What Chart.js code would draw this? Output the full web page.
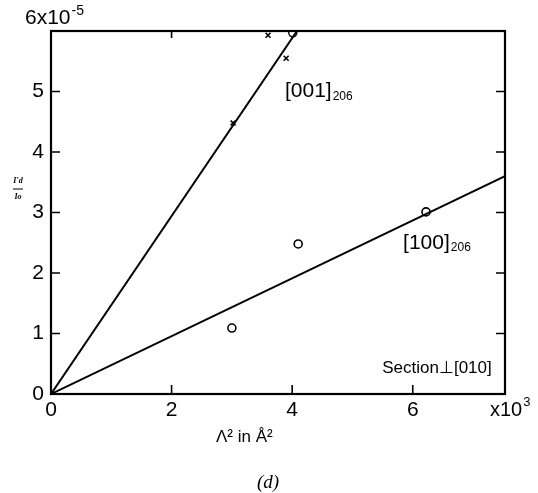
<!DOCTYPE html>
<html>
<head>
<meta charset="utf-8">
<script src="https://cdn.jsdelivr.net/npm/chart.js@4"></script>
<style>
  html, body { margin: 0; padding: 0; background: #fff; }
  #wrap { width: 538px; height: 493px; position: relative; }
</style>
</head>
<body>
<div id="wrap"><canvas id="chart"></canvas></div>
<script>
// data (x in 10^3 Å^2, y in 10^-5)
var xTicks = [0, 2, 4, 6];
var yTicks = [0, 1, 2, 3, 4, 5];
var topTicks = [2];
var xMax = 7.53;
var yMax = 6;

var points001 = [[3.02, 4.48], [3.60, 5.93], [3.90, 5.55]];
var points001Circle = [[4.01, 5.97]];
var points100 = [[3.00, 1.09], [4.10, 2.48], [6.22, 3.01]];
var fit001 = [[0, 0], [4.08, 6.0]];
var fit100 = [[0, 0], [7.53, 3.60]];

var labels = [
    { main: "[001]", sub: "206", x: 3.88, y: 5.0, align: "left", size: 21 },
    { main: "[100]", sub: "206", x: 5.84, y: 2.5, align: "left", size: 21 },
    { main: "Section\u22A5[010]", sub: "", x: 7.31, y: 0.43, align: "right", size: 17 }
];

function toXY(arr) {
    return arr.map(function (p) { return { x: p[0], y: p[1] }; });
}

var FONT = "'Liberation Sans', Arial, sans-serif";

var overlay = {
    id: "overlay",
    afterDraw: function (chart) {
        var ctx = chart.ctx;
        var a = chart.chartArea;
        var xs = chart.scales.x, ys = chart.scales.y;
        ctx.save();
        ctx.strokeStyle = "#000";
        ctx.fillStyle = "#000";

        // frame
        ctx.lineWidth = 2.2;
        ctx.strokeRect(a.left, a.top, a.right - a.left, a.bottom - a.top);

        // inward ticks
        ctx.lineWidth = 1.6;
        ctx.beginPath();
        xTicks.forEach(function (v) {
            if (v === 0) return;
            var px = xs.getPixelForValue(v);
            ctx.moveTo(px, a.bottom);
            ctx.lineTo(px, a.bottom - 9);
        });
        topTicks.forEach(function (v) {
            var px = xs.getPixelForValue(v);
            ctx.moveTo(px, a.top);
            ctx.lineTo(px, a.top + 7);
        });
        yTicks.forEach(function (v) {
            if (v === 0) return;
            var py = ys.getPixelForValue(v);
            ctx.moveTo(a.left, py);
            ctx.lineTo(a.left + 9, py);
            ctx.moveTo(a.right, py);
            ctx.lineTo(a.right - 9, py);
        });
        ctx.stroke();

        // series labels
        ctx.textBaseline = "middle";
        labels.forEach(function (l) {
            var px = xs.getPixelForValue(l.x);
            var py = ys.getPixelForValue(l.y);
            ctx.font = l.size + "px " + FONT;
            var w = ctx.measureText(l.main).width;
            ctx.font = "12px " + FONT;
            var ws = l.sub ? ctx.measureText(l.sub).width : 0;
            var x0 = l.align === "right" ? px - w - ws : px;
            ctx.font = l.size + "px " + FONT;
            ctx.textAlign = "left";
            ctx.fillText(l.main, x0, py);
            if (l.sub) {
                ctx.font = "12px " + FONT;
                ctx.fillText(l.sub, x0 + w + 1, py + 5);
            }
        });

        // y scale factor at top left
        ctx.textAlign = "left";
        ctx.textBaseline = "alphabetic";
        ctx.font = "21px " + FONT;
        ctx.fillText("6x10", 25, 24);
        var w6 = ctx.measureText("6x10").width;
        ctx.font = "14px " + FONT;
        ctx.fillText("-5", 26 + w6, 15);

        // x scale factor
        ctx.font = "20px " + FONT;
        ctx.textBaseline = "middle";
        ctx.fillText("x10", a.right - 15, 410);
        var wx = ctx.measureText("x10").width;
        ctx.font = "13px " + FONT;
        ctx.fillText("3", a.right - 14 + wx, 402);

        // x axis title
        ctx.font = "17px " + FONT;
        ctx.textAlign = "left";
        ctx.fillText("\u039B\u00B2 in \u00C5\u00B2", 216, 437);

        // y axis title (fraction)
        ctx.font = "italic bold 8px 'Liberation Serif', serif";
        ctx.textAlign = "center";
        ctx.fillText("I\u2032d", 18, 181);
        ctx.fillText("Io", 18, 197);
        ctx.lineWidth = 1;
        ctx.beginPath();
        ctx.moveTo(13, 189);
        ctx.lineTo(23, 189);
        ctx.stroke();

        // panel letter
        ctx.font = "italic 19px 'Liberation Serif', serif";
        ctx.fillText("(d)", 268, 483);
        ctx.restore();
    }
};

new Chart(document.getElementById("chart"), {
    type: "scatter",
    data: {
        datasets: [
            {
                label: "[001] fit",
                type: "line",
                data: toXY(fit001),
                borderColor: "#000",
                borderWidth: 2,
                pointRadius: 0
            },
            {
                label: "[100] fit",
                type: "line",
                data: toXY(fit100),
                borderColor: "#000",
                borderWidth: 2,
                pointRadius: 0
            },
            {
                label: "[001]",
                data: toXY(points001),
                pointStyle: "crossRot",
                pointRadius: 3.5,
                borderColor: "#000",
                borderWidth: 1.6
            },
            {
                label: "[001] open",
                data: toXY(points001Circle),
                pointStyle: "circle",
                pointRadius: 4,
                backgroundColor: "#fff",
                borderColor: "#000",
                borderWidth: 1.4
            },
            {
                label: "[100]",
                data: toXY(points100),
                pointStyle: "circle",
                pointRadius: 4,
                backgroundColor: "#fff",
                borderColor: "#000",
                borderWidth: 1.6
            }
        ]
    },
    options: {
        responsive: true,
        maintainAspectRatio: false,
        animation: false,
        layout: { padding: { left: 31, right: 33, top: 31, bottom: 69 } },
        plugins: {
            legend: { display: false },
            tooltip: { enabled: false }
        },
        scales: {
            x: {
                type: "linear",
                min: 0,
                max: xMax,
                grid: { display: false, drawTicks: false },
                border: { display: false },
                afterBuildTicks: function (s) {
                    s.ticks = xTicks.map(function (v) { return { value: v }; });
                },
                afterFit: function (s) { s.height = 30; },
                ticks: {
                    padding: 4,
                    color: "#000",
                    font: { family: FONT, size: 21 },
                    maxRotation: 0
                }
            },
            y: {
                type: "linear",
                min: 0,
                max: yMax,
                grid: { display: false, drawTicks: false },
                border: { display: false },
                afterBuildTicks: function (s) {
                    s.ticks = yTicks.map(function (v) { return { value: v }; });
                },
                afterFit: function (s) { s.width = 20; },
                ticks: {
                    padding: 7,
                    color: "#000",
                    font: { family: FONT, size: 21 }
                }
            }
        }
    },
    plugins: [overlay]
});
</script>
</body>
</html>
